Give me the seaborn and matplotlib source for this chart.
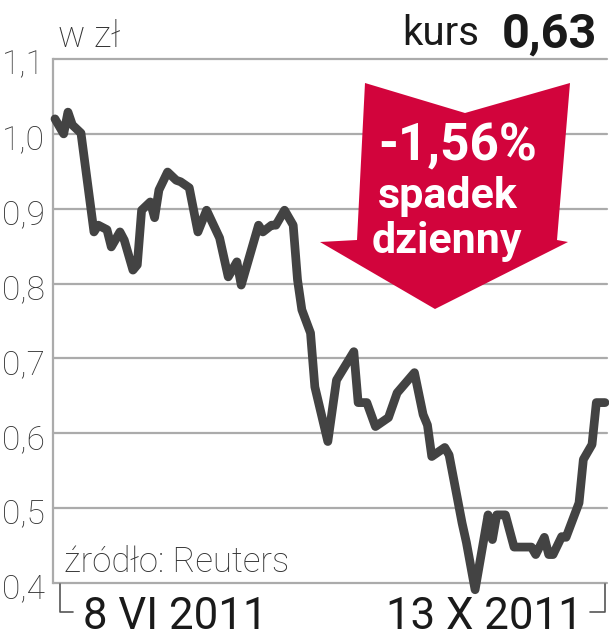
import matplotlib
matplotlib.use("Agg")
import matplotlib.pyplot as plt
import matplotlib.transforms as mtransforms
from matplotlib.patches import Polygon
from matplotlib.lines import Line2D
import seaborn as sns
import pandas as pd

# ---- data ----
days = [0, 2, 3, 4, 6, 9, 10, 12, 13, 15, 16, 18, 19, 20, 22, 23, 24, 26, 28, 29,
        31, 33, 35, 38, 40, 42, 43, 44, 47, 48, 50, 51, 53, 55, 56, 57, 59, 60, 63,
        65, 69, 70, 72, 74, 77, 79, 83, 85, 86, 87, 90, 91, 94, 95, 97, 100, 101,
        102, 104, 106, 110, 111, 113, 114, 115, 117, 118, 121, 122, 124, 125, 127]
prices = [1.020, 1.000, 1.029, 1.012, 1.001, 0.869, 0.878, 0.872, 0.849, 0.869,
          0.858, 0.818, 0.825, 0.898, 0.909, 0.888, 0.925, 0.949, 0.938, 0.936,
          0.928, 0.869, 0.898, 0.861, 0.809, 0.829, 0.798, 0.818, 0.878, 0.869,
          0.878, 0.878, 0.898, 0.878, 0.805, 0.765, 0.734, 0.662, 0.589, 0.671,
          0.709, 0.641, 0.641, 0.609, 0.621, 0.654, 0.681, 0.625, 0.611, 0.569,
          0.581, 0.571, 0.480, 0.454, 0.391, 0.491, 0.458, 0.491, 0.491, 0.448,
          0.448, 0.438, 0.461, 0.438, 0.438, 0.462, 0.461, 0.507, 0.565, 0.585,
          0.641, 0.641]
y_ticks = [0.4, 0.5, 0.6, 0.7, 0.8, 0.9, 1.0, 1.1]
y_tick_labels = ["0,4", "0,5", "0,6", "0,7", "0,8", "0,9", "1,0", "1,1"]
start_label = "8 VI 2011"
end_label = "13 X 2011"
unit_label = "w zł"
price_label = "0,63"
change_label = "-1,56%"
source_label = "źródło: Reuters"

df = pd.DataFrame({"day": days, "price": prices})

W, H = 609, 640
sns.set_theme(style="white")
plt.rcParams["font.family"] = ["Roboto", "DejaVu Sans"]

fig = plt.figure(figsize=(W / 100, H / 100), dpi=100)
fig.patch.set_facecolor("white")

def fx(px):
    return px / W

def fy(py):
    return 1 - py / H

ax_left, ax_right, ax_top, ax_bottom = 53, 607, 59, 583
ax = fig.add_axes([fx(ax_left), fy(ax_bottom), (ax_right - ax_left) / W,
                   (ax_bottom - ax_top) / H])
ax.set_facecolor("white")

grid_color = "#ababab"
line_color = "#434343"
red = "#d2043c"

sns.lineplot(data=df, x="day", y="price", ax=ax, color=line_color, lw=6.3,
             solid_joinstyle="round", solid_capstyle="round", clip_on=False,
             zorder=5)

ax.set_xlim(-0.46, 127.46)
ax.set_ylim(0.4, 1.1)
ax.set_yticks(y_ticks)
ax.set_yticklabels(y_tick_labels, fontsize=24, fontweight="light", color="#333333")
ax.set_xticks([])
ax.set_xlabel("")
ax.set_ylabel("")
ax.tick_params(axis="y", length=0, pad=6)
offset = mtransforms.ScaledTranslation(0, -3 / 100, fig.dpi_scale_trans)
for lab in ax.get_yticklabels():
    lab.set_transform(lab.get_transform() + offset)

ax.grid(axis="y", color=grid_color, lw=1.6)
for gl in ax.get_ygridlines():
    gl.set_clip_on(False)
for s in ["top", "right", "bottom"]:
    ax.spines[s].set_visible(False)
ax.spines["left"].set_color(grid_color)
ax.spines["left"].set_linewidth(1.6)

# bottom brackets (axes fraction coordinates)
bx = lambda px: (px - ax_left) / (ax_right - ax_left)
by = lambda py: (ax_bottom - py) / (ax_bottom - ax_top)
for xs, ys in [([bx(60), bx(60), bx(73)], [by(584), by(612), by(612)]),
               ([bx(590), bx(605), bx(605)], [by(612), by(612), by(584)])]:
    ax.add_line(Line2D(xs, ys, transform=ax.transAxes, color="#555555",
                       lw=1.2, clip_on=False))

# texts
fig.text(fx(58), fy(47), unit_label, fontsize=26, fontweight="light",
         color="#333333", ha="left", va="baseline")
fig.text(fx(597), fy(48), price_label, fontsize=35, fontweight="bold",
         color="#1a1a1a", ha="right", va="baseline")
fig.text(fx(479), fy(45), "kurs", fontsize=29, color="#1a1a1a",
         ha="right", va="baseline")
fig.text(fx(64), fy(572), source_label, fontsize=25, fontweight="light",
         color="#333333", ha="left", va="baseline")
fig.text(fx(83), fy(629), start_label, fontsize=31.5, color="#1a1a1a",
         ha="left", va="baseline")
fig.text(fx(583), fy(629), end_label, fontsize=31.5, color="#1a1a1a",
         ha="right", va="baseline")

# red arrow
arrow_px = [(365, 83), (465, 113), (570, 83), (557, 240), (568, 242),
            (435, 309), (320, 242), (357, 240)]
arrow = Polygon([(fx(x), fy(y)) for x, y in arrow_px], closed=True,
                transform=fig.transFigure, facecolor=red, edgecolor="none",
                zorder=10)
fig.patches.append(arrow)
fig.text(fx(458), fy(160), change_label, fontsize=37, fontweight="bold",
         color="white", ha="center", va="baseline", zorder=11)
fig.text(fx(448), fy(208), "spadek", fontsize=31, fontweight="bold",
         color="white", ha="center", va="baseline", zorder=11)
fig.text(fx(447), fy(253), "dzienny", fontsize=31, fontweight="bold",
         color="white", ha="center", va="baseline", zorder=11)

fig.savefig("out.png", dpi=100, facecolor="white")
